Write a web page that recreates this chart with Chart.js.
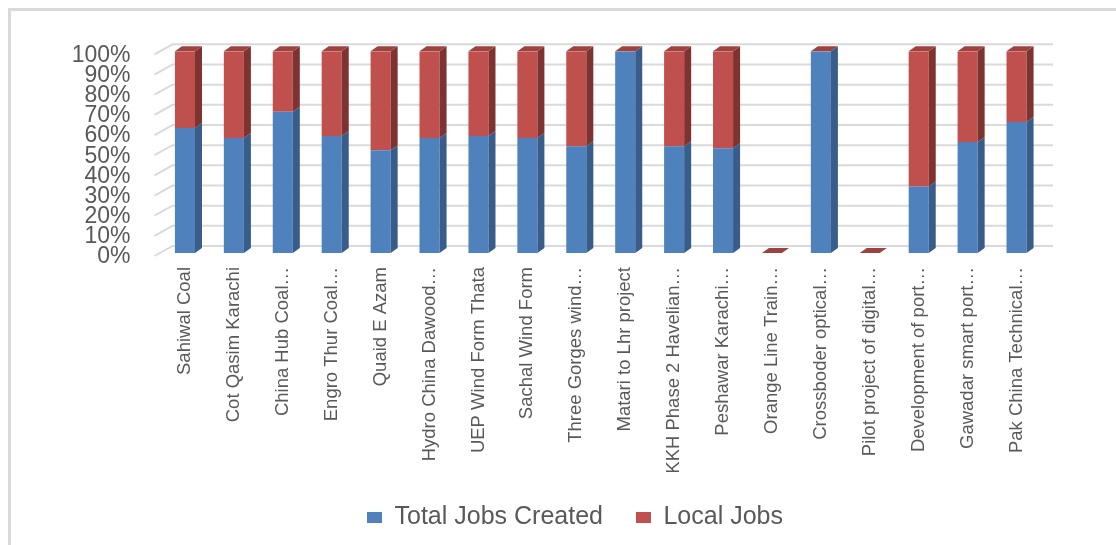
<!DOCTYPE html>
<html lang="en">
<head>
  <meta charset="UTF-8" />
  <title>Total Jobs vs Local Jobs</title>
  <script src="https://cdn.jsdelivr.net/npm/chart.js"></script>
  <style>
    body {
      margin: 0;
      background: #fff;
      overflow: hidden;
      width: 1116px;
      height: 545px;
    }
    .frame {
      position: absolute;
      left: 8px;
      top: 8px;
      width: 1200px;
      height: 600px;
      border-left: 3px solid #dadada;
      border-top: 3px solid #dadada;
    }
    .chart-box {
      position: absolute;
      left: 0;
      top: 0;
      width: 1128px;
      height: 534px;
    }
  </style>
</head>
<body>
  <div class="frame">
    <div class="chart-box"><canvas id="jobsChart"></canvas></div>
  </div>

  <script>
    const projects = [
      "Sahiwal Coal",
      "Cot Qasim Karachi",
      "China Hub Coal…",
      "Engro Thur Coal…",
      "Quaid E Azam",
      "Hydro China Dawood…",
      "UEP Wind Form Thata",
      "Sachal Wind Form",
      "Three Gorges wind…",
      "Matari to Lhr project",
      "KKH Phase 2 Havelian…",
      "Peshawar Karachi…",
      "Orange Line Train…",
      "Crossboder optical…",
      "Pilot project of digital…",
      "Development of port…",
      "Gawadar smart port…",
      "Pak China Technical…"
    ];
    // share of each project, in percent
    const totalJobs = [62, 57, 70, 58, 51, 57, 58, 57, 53, 100, 53, 52, 0, 100, 0, 33, 55, 65];
    const localJobs = [38, 43, 30, 42, 49, 43, 42, 43, 47, 0, 47, 48, 0, 0, 0, 67, 45, 35];
    const yTicks = [0, 10, 20, 30, 40, 50, 60, 70, 80, 90, 100];

    const textColor = "#595959";
    const fontFamily = "'Liberation Sans', Arial, sans-serif";

    // back wall gridlines with the little slanted bit on the left, like Excel 3D
    const wallGrid = {
      id: "wallGrid",
      beforeDatasetsDraw(chart) {
        const { ctx, chartArea, scales } = chart;
        ctx.save();
        ctx.strokeStyle = "#dadada";
        ctx.lineWidth = 2;
        yTicks.forEach(v => {
          const y = scales.y.getPixelForValue(v);
          ctx.beginPath();
          ctx.moveTo(chartArea.left - 6, y + 3);
          ctx.lineTo(chartArea.left + 12, y - 7);
          ctx.lineTo(chartArea.right + 12, y - 7);
          ctx.stroke();
        });
        ctx.restore();
      }
    };

    // side and top faces for the columns
    const depth = { dx: 7, dy: 5 };
    const bars3d = {
      id: "bars3d",
      afterDatasetsDraw(chart) {
        const ctx = chart.ctx;
        const last = chart.data.datasets.length - 1;
        ctx.save();
        chart.data.datasets.forEach((ds, i) => {
          const meta = chart.getDatasetMeta(i);
          meta.data.forEach(bar => {
            const { x, y, base, width } = bar.getProps(["x", "y", "base", "width"], true);
            const l = x - width / 2, r = x + width / 2;
            const top = Math.min(y, base), bottom = Math.max(y, base);
            if (bottom - top > 0) {
              ctx.fillStyle = ds.sideColor;
              ctx.beginPath();
              ctx.moveTo(r, top);
              ctx.lineTo(r + depth.dx, top - depth.dy);
              ctx.lineTo(r + depth.dx, bottom - depth.dy);
              ctx.lineTo(r, bottom);
              ctx.closePath();
              ctx.fill();
            }
            if (i === last) {
              ctx.fillStyle = ds.topColor;
              ctx.beginPath();
              ctx.moveTo(l, top);
              ctx.lineTo(l + depth.dx, top - depth.dy);
              ctx.lineTo(r + depth.dx, top - depth.dy);
              ctx.lineTo(r, top);
              ctx.closePath();
              ctx.fill();
            }
          });
        });
        ctx.restore();
      }
    };

    new Chart(document.getElementById("jobsChart"), {
      type: "bar",
      data: {
        labels: projects,
        datasets: [
          {
            label: "Total Jobs Created",
            data: totalJobs,
            backgroundColor: "#4f81bd",
            sideColor: "#385d8a",
            topColor: "#416b9c",
            barPercentage: 0.41,
            categoryPercentage: 1
          },
          {
            label: "Local Jobs",
            data: localJobs,
            backgroundColor: "#c0504d",
            sideColor: "#7f3331",
            topColor: "#9e4240",
            barPercentage: 0.41,
            categoryPercentage: 1
          }
        ]
      },
      options: {
        responsive: true,
        maintainAspectRatio: false,
        animation: false,
        layout: {
          padding: { top: 39, right: 0, left: 0, bottom: 5 }
        },
        plugins: {
          legend: {
            position: "bottom",
            labels: {
              color: textColor,
              font: { family: fontFamily, size: 25 },
              boxWidth: 15,
              boxHeight: 11,
              padding: 33
            }
          },
          tooltip: { enabled: false }
        },
        scales: {
          x: {
            stacked: true,
            grid: { display: false, drawTicks: false },
            border: { display: false },
            ticks: {
              color: textColor,
              font: { family: fontFamily, size: 18.5 },
              minRotation: 90,
              maxRotation: 90,
              autoSkip: false,
              padding: 14
            },
            afterFit(scale) { scale.height = 219; }
          },
          y: {
            stacked: true,
            min: 0,
            max: 100,
            grid: { display: false, drawTicks: false },
            border: { display: false },
            ticks: {
              count: yTicks.length,
              autoSkip: false,
              color: textColor,
              font: { family: fontFamily, size: 23, lineHeight: 0.9 },
              padding: 30,
              labelOffset: 4,
              callback: v => v + "%"
            },
            afterFit(scale) { scale.width = 149.5; }
          },
          // empty right axis, only keeps room on the right of the plot
          spacer: {
            position: "right",
            grid: { display: false, drawTicks: false },
            border: { display: false },
            ticks: { display: false },
            afterFit(scale) { scale.width = 98; }
          }
        }
      },
      plugins: [wallGrid, bars3d]
    });
  </script>
</body>
</html>
